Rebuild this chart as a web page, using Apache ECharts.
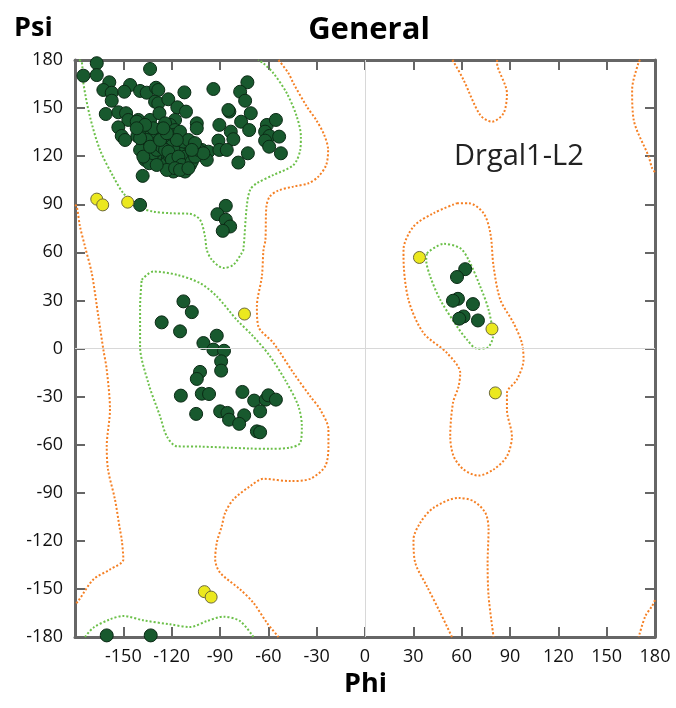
<!DOCTYPE html>
<html>
<head>
<meta charset="utf-8">
<script src="https://cdn.jsdelivr.net/npm/echarts@6/dist/echarts.min.js"></script>
<style>
  html, body { margin: 0; padding: 0; background: #fff; }
  #chart { width: 676px; height: 708px; }
</style>
</head>
<body>
<div id="chart"></div>
<script>
// residues in favoured regions (phi, psi)
var favouredPts = [
    [-166.5, 178], [-133.4, 174.4], [-174.8, 170.2], [-166.5, 170.6], [-158.7, 166.1], [-145.8, 164.4],
    [-162.4, 161.3], [-157.2, 159.6], [-157.2, 154.6], [-149.4, 160.2], [-139.6, 160.7], [-135.5, 159.6],
    [-129.7, 162.7], [-128.3, 161.3], [-130.3, 154.0], [-128.3, 153.0], [-122.1, 155.5], [-112.1, 159.8],
    [-94.1, 161.9], [-73.0, 166.1], [-77.5, 160.2], [-74.4, 154.6], [-160.9, 146.3], [-153.1, 147.4],
    [-148.3, 146.8], [-146.9, 142.6], [-140.7, 142.6], [-141.7, 141.5], [-153.1, 138.0], [-151.0, 132.6],
    [-148.9, 130.1], [-141.3, 132.6], [-138.6, 136.3], [-133.4, 142.6], [-127.6, 146.8], [-116.5, 150.5],
    [-111.1, 147.8], [-117.9, 142.6], [-121.0, 139.5], [-124.1, 140.5], [-127.2, 136.3], [-128.9, 136.3],
    [-133.4, 132.2], [-137.6, 125.9], [-138.0, 107.7], [-136.5, 121.8], [-135.1, 117.7], [-132.4, 123.9],
    [-127.2, 118.7], [-125.2, 122.8], [-123.0, 115.6], [-118.9, 110.4], [-112.7, 111.4], [-108.6, 114.5],
    [-110.6, 123.9], [-107.5, 128.4], [-104.4, 140.5], [-104.4, 137.4], [-101.3, 123.9], [-97.2, 122.8],
    [-98.2, 117.7], [-114.8, 132.2], [-117.9, 136.3], [-121.0, 130.1], [-117.9, 125.9], [-114.8, 121.8],
    [-112.7, 129.1], [-118.9, 123.9], [-123.0, 127.0], [-129.3, 128.1], [-113.7, 117.7], [-111.7, 119.7],
    [-106.5, 121.8], [-121.0, 119.7], [-116.8, 115.6], [-125.2, 132.2], [-135.5, 130.1], [-139.6, 123.9],
    [-130.3, 119.7], [-84.2, 147.8], [-84.8, 148.8], [-70.9, 146.8], [-90.4, 139.5], [-83.3, 135.3],
    [-81.7, 130.6], [-76.9, 141.5], [-71.9, 136.3], [-91.0, 129.7], [-90.4, 123.9], [-85.8, 123.9],
    [-78.6, 116.0], [-72.7, 121.8], [-60.9, 139.5], [-55.3, 142.6], [-62.0, 135.3], [-59.3, 132.6],
    [-53.3, 132.2], [-62.0, 129.7], [-59.5, 125.9], [-52.2, 121.8], [-139.6, 89.6], [-86.4, 89.0],
    [-91.6, 83.8], [-86.4, 80.3], [-83.7, 76.1], [-88.3, 73.4],
    [-136.5, 117.7], [-133.9, 115.6], [-131.4, 121.8], [-129.3, 123.9], [-126.2, 125.9], [-124.1, 123.9],
    [-122.1, 122.8], [-119.9, 117.7], [-115.8, 119.7], [-113.7, 114.5], [-111.7, 110.4], [-107.5, 116.6],
    [-105.5, 119.7], [-103.4, 123.9], [-100.3, 121.8], [-123.0, 111.4], [-129.3, 114.5], [-137.6, 119.7],
    [-133.4, 125.9], [-127.2, 130.1], [-118.9, 133.2], [-114.8, 135.3], [-109.6, 130.1], [-105.5, 128.1],
    [-116.8, 130.1], [-123.0, 134.3], [-131.4, 137.4], [-136.5, 139.5], [-139.6, 131.2], [-141.7, 137.4],
    [-125.2, 137.4], [-107.5, 123.9], [-117.9, 112.5], [-114.8, 111.4], [-109.6, 112.5],
    // alpha region
    [-112.7, 29.4], [-107.5, 22.7], [-126.2, 16.3], [-114.8, 10.7], [-92.0, 8.0], [-100.3, 3.4],
    [-94.1, -0.7], [-87.5, -1.4], [-89.3, -8.0], [-89.3, -13.8], [-102.4, -14.6], [-104.4, -19.0],
    [-114.3, -29.4], [-101.3, -28.2], [-96.8, -28.4], [-76.1, -27.1], [-68.8, -32.5], [-61.6, -31.9],
    [-60.0, -29.2], [-55.3, -31.9], [-65.1, -39.2], [-104.8, -40.8], [-89.9, -39.2], [-85.4, -40.2],
    [-84.4, -44.4], [-75.0, -41.7], [-78.1, -47.0], [-67.1, -51.7], [-65.1, -52.3],
    // left-handed region
    [62.2, 49.5], [57.1, 44.6], [57.7, 31.0], [54.6, 29.8], [67.0, 27.7], [61.2, 20.0], [58.5, 18.6], [70.1, 17.5],
    // bottom edge
    [-160.3, -179], [-133.0, -179]
];

// residues in allowed regions
var allowedPts = [
    [-166.5, 93.2], [-162.8, 89.6], [-147.3, 91.3], [-74.8, 21.5],
    [33.8, 56.8], [78.8, 12.2], [80.9, -27.7], [-99.7, -151.7], [-95.5, -155.1]
];

// favoured region contours (green)
var greenBeta = [
    [-177.5, 180], [-175.8, 178.9], [-174.8, 165.6], [-170.7, 144.6], [-164.5, 123.9], [-156.2, 107.2],
    [-150.0, 96.9], [-141.7, 88.6], [-131.4, 85.4], [-121.0, 84.4], [-108.6, 84.0], [-102.4, 80.3],
    [-99.3, 69.9], [-98.2, 61.6], [-95.1, 55.4], [-87.9, 50.2], [-81.7, 52.2], [-76.5, 59.5],
    [-75.5, 61.6], [-73.4, 88.6], [-71.3, 99.0], [-67.1, 103.1], [-56.8, 108.3], [-44.4, 114.5],
    [-40.2, 123.9], [-39.8, 132.2], [-42.3, 144.6], [-48.5, 159.2], [-56.8, 171.7], [-63.0, 177.9], [-66.3, 180]
];
var greenBetaWrap = [
    [-173.8, -180], [-168.6, -174.2], [-158.3, -169.0], [-150.0, -166.9], [-137.6, -169.6], [-121.0, -172.1],
    [-108.6, -173.8], [-98.2, -170.1], [-87.9, -167.3], [-77.5, -170.1], [-69.3, -180]
];
var greenAlpha = [
    [-138.6, 42.9], [-131.4, 48.0], [-116.8, 46.0], [-102.4, 40.8], [-92.0, 32.5], [-79.6, 17.9],
    [-69.3, 7.5], [-58.9, -4.9], [-48.5, -21.5], [-41.3, -36.1], [-39.2, -48.5], [-40.2, -58.9],
    [-46.5, -61.8], [-59.0, -62.6], [-71.3, -62.4], [-102.4, -61.2], [-116.8, -61.0], [-123.0, -54.8],
    [-127.2, -42.3], [-134.5, -21.5], [-139.6, 1.3], [-139.6, 26.2], [-138.6, 42.9]
];
var greenLeft = [
    [38.4, 59.5], [48.7, 65.3], [59.1, 62.6], [64.3, 55.3], [71.5, 38.7], [76.7, 24.2], [79.4, 7.5],
    [75.7, 0.3], [69.5, -0.1], [63.3, 5.5], [57.1, 13.8], [46.7, 30.4], [40.5, 44.9], [38.0, 55.3], [38.4, 59.5]
];

// allowed region contours (orange)
var orangeLeftEdge = [
    [-180, 89.6], [-178.9, 88.6], [-176.9, 76.1], [-173.8, 63.6], [-169.6, 47.0], [-165.5, 20.0],
    [-162.4, -0.7], [-160.3, -13.2], [-158.3, -38.1], [-160.3, -61.0], [-159.5, -75.5], [-155.2, -94.2],
    [-152.1, -112.9], [-151.0, -119.2], [-150.0, -131.6], [-158.3, -137.9], [-168.6, -144.1],
    [-178.0, -157.6], [-180, -159.7]
];
var orangeMid = [
    [-53.7, 180], [-47.7, 172.1], [-44.4, 165.4], [-36.1, 150.9], [-30.3, 142.6], [-25.3, 133.2],
    [-22.9, 123.9], [-24.1, 114.5], [-29.1, 107.1], [-35.1, 103.1], [-44.6, 101.0], [-53.9, 98.5],
    [-59.1, 94.8], [-61.2, 88.6], [-61.8, 67.8], [-63.0, 61.6], [-64.0, 45.0], [-67.1, 26.2],
    [-66.2, 13.8], [-56.8, 3.4], [-44.4, -15.3], [-34.0, -29.8], [-27.8, -38.1], [-22.7, -50.6],
    [-22.7, -61.0], [-24.7, -73.4], [-34.0, -81.3], [-46.5, -82.7], [-63.0, -81.3], [-71.3, -85.9],
    [-81.7, -94.2], [-86.8, -102.5], [-88.9, -110.8], [-92.0, -121.2], [-93.0, -131.6], [-89.9, -139.9],
    [-77.5, -150.3], [-69.3, -158.6], [-60.9, -171.1], [-53.7, -180]
];
var orangeLhUpper = [
    [57.1, 90.7], [64.3, 90.7], [73.6, 84.4], [77.8, 72.0], [79.8, 51.2], [84.0, 30.4], [92.2, 15.9],
    [97.4, 3.4], [98.4, -7.0], [94.3, -19.4], [88.1, -27.7], [88.1, -38.1], [91.2, -54.8], [88.1, -67.2],
    [79.8, -75.5], [70.5, -79.3], [61.2, -75.5], [55.0, -67.2], [52.9, -54.8], [54.6, -34.0],
    [58.1, -23.6], [59.1, -15.3], [50.9, -2.8], [36.3, 9.7], [27.0, 30.4], [23.9, 57.4], [23.9, 61.6],
    [30.1, 76.1], [42.5, 84.4], [57.1, 90.7]
];
var orangeLhLower = [
    [54.0, -180], [46.7, -164.8], [38.4, -148.3], [31.2, -133.7], [30.1, -119.2], [34.3, -108.7],
    [42.5, -99.4], [58.1, -93.2], [67.4, -95.3], [74.7, -102.5], [76.7, -112.9], [76.1, -133.7],
    [76.7, -154.5], [79.8, -180]
];
var orangeTopU = [
    [54.2, 180], [55.0, 178.9], [61.2, 167.5], [71.5, 145.7], [78.8, 141.5], [86.0, 146.8],
    [88.1, 159.2], [81.9, 178.9], [82.1, 180]
];
var orangeTopRight = [
    [170.9, 180], [169.9, 178.9], [165.8, 161.3], [166.8, 142.6], [176.1, 119.7], [178.2, 112.5], [180, 110]
];
var orangeBottomRight = [
    [180, -157], [178.2, -160.7], [174.0, -167.0], [169.9, -180]
];

var GREEN = '#6cc04a';
var ORANGE = '#f58025';

function contour(d, color) {
    return {
        type: 'line',
        data: d,
        smooth: 0.3,
        symbol: 'none',
        silent: true,
        z: 2,
        lineStyle: { color: color, width: 2, type: [2, 2] }
    };
}

function frameAxis(pos) {
    return {
        type: 'value', min: -180, max: 180, interval: 30, position: pos,
        axisLine: { onZero: false, lineStyle: { color: '#666', width: 3 } },
        axisTick: { inside: true, length: 10, lineStyle: { color: '#666', width: 2 } },
        splitLine: { show: false },
        axisLabel: { show: false }
    };
}

var chart = echarts.init(document.getElementById('chart'));
chart.setOption({
    animation: false,
    backgroundColor: '#fff',
    title: {
        text: 'General',
        left: 364,
        textAlign: 'center',
        top: 10,
        textStyle: { fontFamily: 'Open Sans', fontWeight: 'bold', fontSize: 31, color: '#000' }
    },
    graphic: [
        { type: 'text', left: 14, top: 15, style: { text: 'Psi', font: 'bold 27px "Open Sans"', fill: '#000' } },
        { type: 'text', left: 344, top: 671, style: { text: 'Phi', font: 'bold 27px "Open Sans"', fill: '#000' } },
        { type: 'text', left: 454, top: 142, style: { text: 'Drgal1-L2', font: '29px "Open Sans"', fill: '#222' } }
    ],
    grid: { left: 75, right: 21, top: 60, bottom: 71 },
    xAxis: [{
        type: 'value', min: -180, max: 180, interval: 30,
        axisLine: { onZero: false, lineStyle: { color: '#666', width: 3 } },
        axisTick: { inside: true, length: 10, lineStyle: { color: '#666', width: 2 } },
        splitLine: { show: false },
        axisLabel: {
            margin: 11, fontSize: 18, fontFamily: 'Open Sans', color: '#111',
            formatter: function(v) { return v == -180 ? '' : v; }
        }
    }, frameAxis('top')],
    yAxis: [{
        type: 'value', min: -180, max: 180, interval: 30,
        axisLine: { onZero: false, lineStyle: { color: '#666', width: 3 } },
        axisTick: { inside: true, length: 10, lineStyle: { color: '#666', width: 2 } },
        splitLine: { show: false },
        axisLabel: { margin: 12, fontSize: 18, fontFamily: 'Open Sans', color: '#111' }
    }, frameAxis('right')],
    series: [
        {
            type: 'line', data: [], silent: true,
            markLine: {
                symbol: 'none', silent: true, label: { show: false },
                lineStyle: { color: '#d8d8d8', width: 1, type: 'solid' },
                data: [{ xAxis: 0 }, { yAxis: 0 }]
            }
        },
        contour(greenBeta, GREEN),
        contour(greenBetaWrap, GREEN),
        contour(greenAlpha, GREEN),
        contour(greenLeft, GREEN),
        contour(orangeLeftEdge, ORANGE),
        contour(orangeMid, ORANGE),
        contour(orangeLhUpper, ORANGE),
        contour(orangeLhLower, ORANGE),
        contour(orangeTopU, ORANGE),
        contour(orangeTopRight, ORANGE),
        contour(orangeBottomRight, ORANGE),
        {
            type: 'scatter', data: favouredPts, symbolSize: 13, z: 3,
            itemStyle: { color: '#18592e', borderColor: '#0b2a15', borderWidth: 1, opacity: 1 }
        },
        {
            type: 'scatter', data: allowedPts, symbolSize: 12, z: 4,
            itemStyle: { color: '#ebe81e', borderColor: '#6d6a3a', borderWidth: 1, opacity: 1 }
        }
    ]
});
</script>
</body>
</html>
